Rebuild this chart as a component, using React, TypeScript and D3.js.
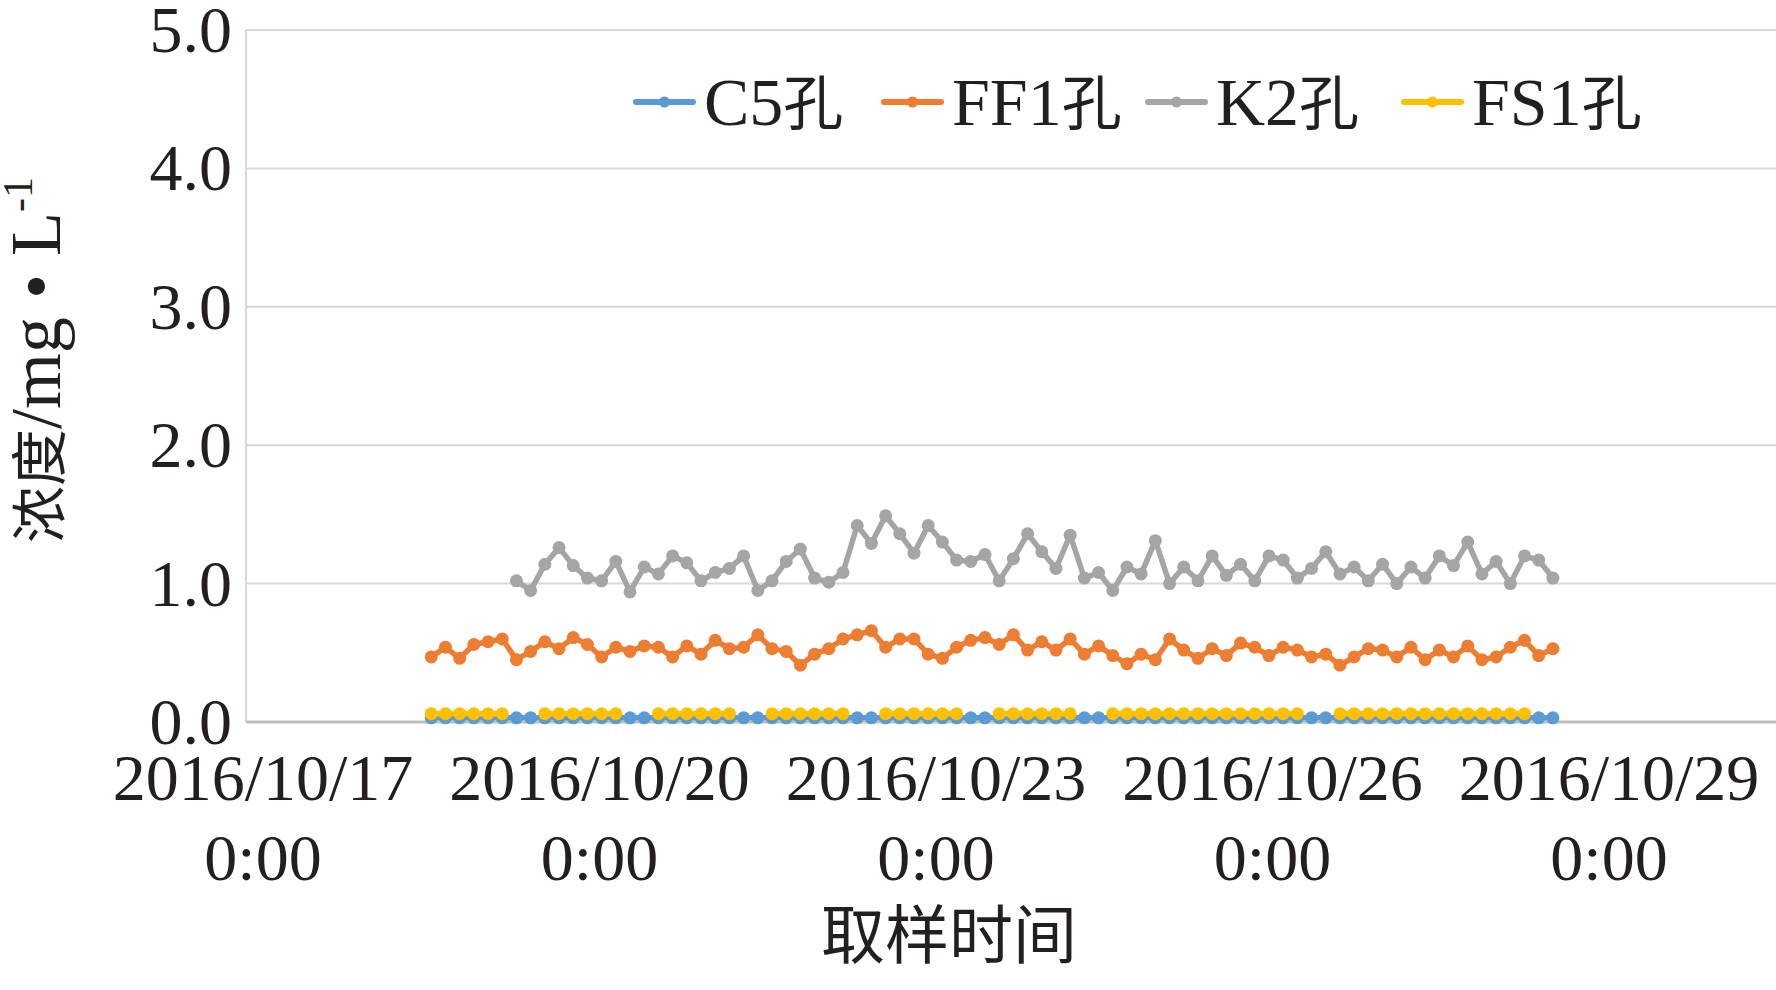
import * as d3 from 'd3';

// ---- data ----
const seriesNames = ['C5孔', 'FF1孔', 'K2孔', 'FS1孔'];
const seriesColors = ['#5b9bd5', '#ed7d31', '#a5a5a5', '#ffc000'];

const c5Values = [
  0.03, 0.03, 0.03, 0.03, 0.03, 0.03, 0.03, 0.03,
  0.03, 0.03, 0.03, 0.03, 0.03, 0.03, 0.03, 0.03,
  0.03, 0.03, 0.03, 0.03, 0.03, 0.03, 0.03, 0.03,
  0.03, 0.03, 0.03, 0.03, 0.03, 0.03, 0.03, 0.03,
  0.03, 0.03, 0.03, 0.03, 0.03, 0.03, 0.03, 0.03,
  0.03, 0.03, 0.03, 0.03, 0.03, 0.03, 0.03, 0.03,
  0.03, 0.03, 0.03, 0.03, 0.03, 0.03, 0.03, 0.03,
  0.03, 0.03, 0.03, 0.03, 0.03, 0.03, 0.03, 0.03,
  0.03, 0.03, 0.03, 0.03, 0.03, 0.03, 0.03, 0.03,
  0.03, 0.03, 0.03, 0.03, 0.03, 0.03, 0.03, 0.03,
];

const ff1Values = [
  0.47, 0.54, 0.46, 0.56, 0.58, 0.60, 0.45, 0.51,
  0.58, 0.53, 0.61, 0.56, 0.47, 0.54, 0.51, 0.55,
  0.54, 0.47, 0.55, 0.49, 0.59, 0.53, 0.54, 0.63,
  0.53, 0.51, 0.41, 0.49, 0.53, 0.60, 0.63, 0.66,
  0.54, 0.60, 0.60, 0.49, 0.46, 0.54, 0.59, 0.61,
  0.56, 0.63, 0.52, 0.58, 0.52, 0.60, 0.49, 0.55,
  0.48, 0.42, 0.49, 0.45, 0.60, 0.52, 0.46, 0.53,
  0.48, 0.57, 0.54, 0.48, 0.54, 0.52, 0.47, 0.49,
  0.41, 0.47, 0.53, 0.52, 0.47, 0.54, 0.45, 0.52,
  0.47, 0.55, 0.45, 0.47, 0.54, 0.59, 0.48, 0.53,
];

const k2Values = [
  null, null, null, null, null, null, 1.02, 0.95,
  1.14, 1.26, 1.13, 1.04, 1.02, 1.16, 0.94, 1.12,
  1.07, 1.20, 1.15, 1.02, 1.08, 1.11, 1.20, 0.95,
  1.02, 1.16, 1.25, 1.04, 1.01, 1.08, 1.42, 1.29,
  1.49, 1.36, 1.22, 1.42, 1.30, 1.17, 1.16, 1.21,
  1.02, 1.18, 1.36, 1.23, 1.11, 1.35, 1.04, 1.08,
  0.95, 1.12, 1.07, 1.31, 1.00, 1.12, 1.02, 1.20,
  1.06, 1.14, 1.02, 1.20, 1.17, 1.04, 1.11, 1.23,
  1.07, 1.12, 1.02, 1.14, 1.00, 1.12, 1.04, 1.20,
  1.13, 1.30, 1.07, 1.16, 1.00, 1.20, 1.17, 1.04,
];

const fs1Values = [
  0.06, 0.06, 0.06, 0.06, 0.06, 0.06, null, null,
  0.06, 0.06, 0.06, 0.06, 0.06, 0.06, null, null,
  0.06, 0.06, 0.06, 0.06, 0.06, 0.06, null, null,
  0.06, 0.06, 0.06, 0.06, 0.06, 0.06, null, null,
  0.06, 0.06, 0.06, 0.06, 0.06, 0.06, null, null,
  0.06, 0.06, 0.06, 0.06, 0.06, 0.06, null, null,
  0.06, 0.06, 0.06, 0.06, 0.06, 0.06, 0.06, 0.06,
  0.06, 0.06, 0.06, 0.06, 0.06, 0.06, null, null,
  0.06, 0.06, 0.06, 0.06, 0.06, 0.06, 0.06, 0.06,
  0.06, 0.06, 0.06, 0.06, 0.06, 0.06, null, null,
];

// first and last sampling time (samples evenly spaced between them)
const sampleStart = '2016-10-18 12:00';
const sampleEnd = '2016-10-28 12:00';

const xTickDates = ['2016-10-17 00:00', '2016-10-20 00:00', '2016-10-23 00:00', '2016-10-26 00:00', '2016-10-29 00:00'];
const xTickLabels = ['2016/10/17', '2016/10/20', '2016/10/23', '2016/10/26', '2016/10/29'];
const xTickTimeLabel = '0:00';
const yTicks = [0, 1, 2, 3, 4, 5];

const xTitle = '取样时间';

// ---- layout ----
const W = 1776;
const H = 990;
const plot = { left: 246, right: 1776, top: 30, bottom: 722 };
const SERIF = '"Liberation Serif", "Times New Roman", serif';
const CJK = '"Noto Sans CJK SC", "Noto Sans CJK JP", sans-serif';
const INK = '#231f20';
const legendLineX = [636, 884, 1148, 1404];

const parse = d3.timeParse('%Y-%m-%d %H:%M');

export default function App() {
  const t0 = parse(sampleStart)!;
  const t1 = parse(sampleEnd)!;
  const n = c5Values.length;
  const times = d3.range(n).map(i => new Date(+t0 + (i * (+t1 - +t0)) / (n - 1)));

  const x = d3.scaleTime()
    .domain([parse(xTickDates[0])!, parse(xTickDates[xTickDates.length - 1])!])
    .range([263, 1609]);

  const y = d3.scaleLinear().domain([0, 5]).range([plot.bottom, plot.top]);

  const allSeries = [c5Values, ff1Values, k2Values, fs1Values];

  const line = d3.line<number | null>()
    .defined(d => d != null)
    .x((_, i) => x(times[i]))
    .y(d => y(d as number));

  return (
    <div style={{ position: 'absolute', left: 0, top: 0, width: W, height: H, background: '#fff' }}>
      <svg width={W} height={H} style={{ display: 'block' }}>
        <rect x={0} y={0} width={W} height={H} fill="#fff" />

        {/* gridlines */}
        {yTicks.filter(t => t > 0).map(t => (
          <line key={t} x1={plot.left} x2={plot.right} y1={y(t)} y2={y(t)} stroke="#d9d9d9" strokeWidth={2} />
        ))}
        <line x1={plot.left} x2={plot.left} y1={plot.top} y2={plot.bottom} stroke="#d9d9d9" strokeWidth={2} />
        <line x1={plot.left} x2={plot.right} y1={y(0)} y2={y(0)} stroke="#bfbfbf" strokeWidth={3} />

        {/* y tick labels */}
        {yTicks.map(t => (
          <text key={t} x={232} y={y(t) + 22} textAnchor="end" fontFamily={SERIF} fontSize={66} fill={INK}>
            {d3.format('.1f')(t)}
          </text>
        ))}

        {/* x tick labels */}
        {xTickDates.map((d, i) => (
          <g key={d} fontFamily={SERIF} fontSize={66} fill={INK} textAnchor="middle">
            <text x={x(parse(d)!)} y={plot.bottom + 78}>{xTickLabels[i]}</text>
            <text x={x(parse(d)!)} y={plot.bottom + 158}>{xTickTimeLabel}</text>
          </g>
        ))}

        {/* axis titles */}
        <text x={949} y={958} textAnchor="middle" fontFamily={CJK} fontSize={64} fill={INK}>{xTitle}</text>
        <text transform="translate(60,360) rotate(-90)" textAnchor="middle" fill={INK}>
          <tspan fontFamily={CJK} fontSize={57}>浓度</tspan>
          <tspan fontFamily={SERIF} fontSize={72}>/mg • L</tspan>
          <tspan fontFamily={SERIF} fontSize={42} dy={-28}>-1</tspan>
        </text>

        {/* series */}
        {allSeries.map((vals, s) => (
          <g key={seriesNames[s]}>
            <path d={line(vals) ?? ''} fill="none" stroke={seriesColors[s]} strokeWidth={5.5} strokeLinejoin="round" />
            {vals.map((v, i) => v == null ? null : (
              <circle key={i} cx={x(times[i])} cy={y(v)} r={6.5} fill={seriesColors[s]} />
            ))}
          </g>
        ))}

        {/* legend */}
        {seriesNames.map((name, s) => {
          const lx = legendLineX[s];
          return (
            <g key={name}>
              <line x1={lx} x2={lx + 57} y1={102} y2={102} stroke={seriesColors[s]} strokeWidth={6} strokeLinecap="round" />
              <circle cx={lx + 28.5} cy={102} r={5.5} fill={seriesColors[s]} />
              <text x={lx + 68} y={125} fill={INK}>
                <tspan fontFamily={SERIF} fontSize={68}>{name.slice(0, -1)}</tspan>
                <tspan fontFamily={CJK} fontSize={60}>{name.slice(-1)}</tspan>
              </text>
            </g>
          );
        })}
      </svg>
    </div>
  );
}
